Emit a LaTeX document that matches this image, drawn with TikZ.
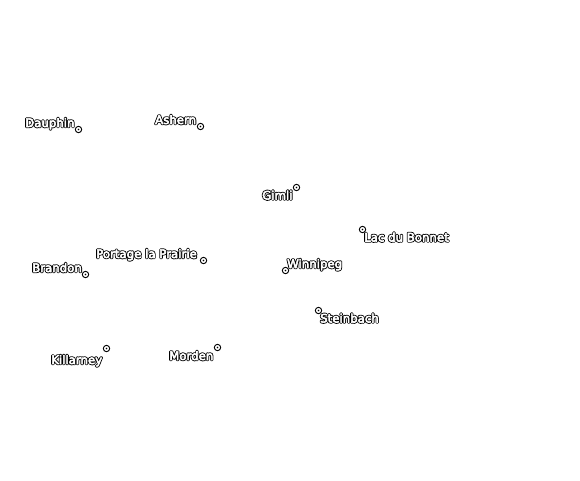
\documentclass[tikz,border=0pt]{standalone}
\usepackage{fontspec}
\setmainfont{DejaVu Sans}
\newcommand{\halotext}[1]{%
  \leavevmode\rlap{\special{pdf:code q 2 Tr 2.3 w 1 j 0 0 0 RG 0 0 0 rg}#1\special{pdf:code Q}}%
  \special{pdf:code q 2 Tr 0.55 w 1 j 1 1 1 RG 1 1 1 rg}#1\special{pdf:code Q}}
\tikzset{
  town/.style={circle,draw=black,fill=white,line width=0.9pt,minimum size=6.4pt,inner sep=0pt,
    path picture={\fill[black] (path picture bounding box.center) circle (0.9pt);}},
  townlabel/.style={inner sep=0pt,font=\fontsize{11.75}{14}\selectfont,anchor=base west}
}
\begin{document}
\begin{tikzpicture}[x=1pt,y=-1pt]
\useasboundingbox (0,0) rectangle (580,480);
\fill[white] (0,0) rectangle (580,480);
\node[town] (dauphin) at (78.5,129.5) {};
\node[town] (ashern) at (200.5,126.5) {};
\node[town] (gimli) at (296.5,187.5) {};
\node[town] (lac) at (362.5,229.5) {};
\node[town] (winnipeg) at (285.5,270.5) {};
\node[town] (steinbach) at (318.5,310.5) {};
\node[town] (portage) at (203.5,260.5) {};
\node[town] (brandon) at (85.5,274.5) {};
\node[town] (killarney) at (106.5,348.5) {};
\node[town] (morden) at (217.5,347.5) {};
\node[townlabel] (dauphinL) at (25,127) {\halotext{Dauphin}};
\node[townlabel] (ashernL) at (155,124) {\halotext{Ashern}};
\node[townlabel] (gimliL) at (262,199.5) {\halotext{Gimli}};
\node[townlabel] (lacL) at (364,241.5) {\halotext{Lac du Bonnet}};
\node[townlabel] (winnipegL) at (287,268) {\halotext{Winnipeg}};
\node[townlabel] (steinbachL) at (320,322.5) {\halotext{Steinbach}};
\node[townlabel] (portageL) at (96,258) {\halotext{Portage la Prairie}};
\node[townlabel] (brandonL) at (32,272) {\halotext{Brandon}};
\node[townlabel] (killarneyL) at (51,364) {\halotext{Killarney}};
\node[townlabel] (mordenL) at (169,360) {\halotext{Morden}};
\end{tikzpicture}
\end{document}
